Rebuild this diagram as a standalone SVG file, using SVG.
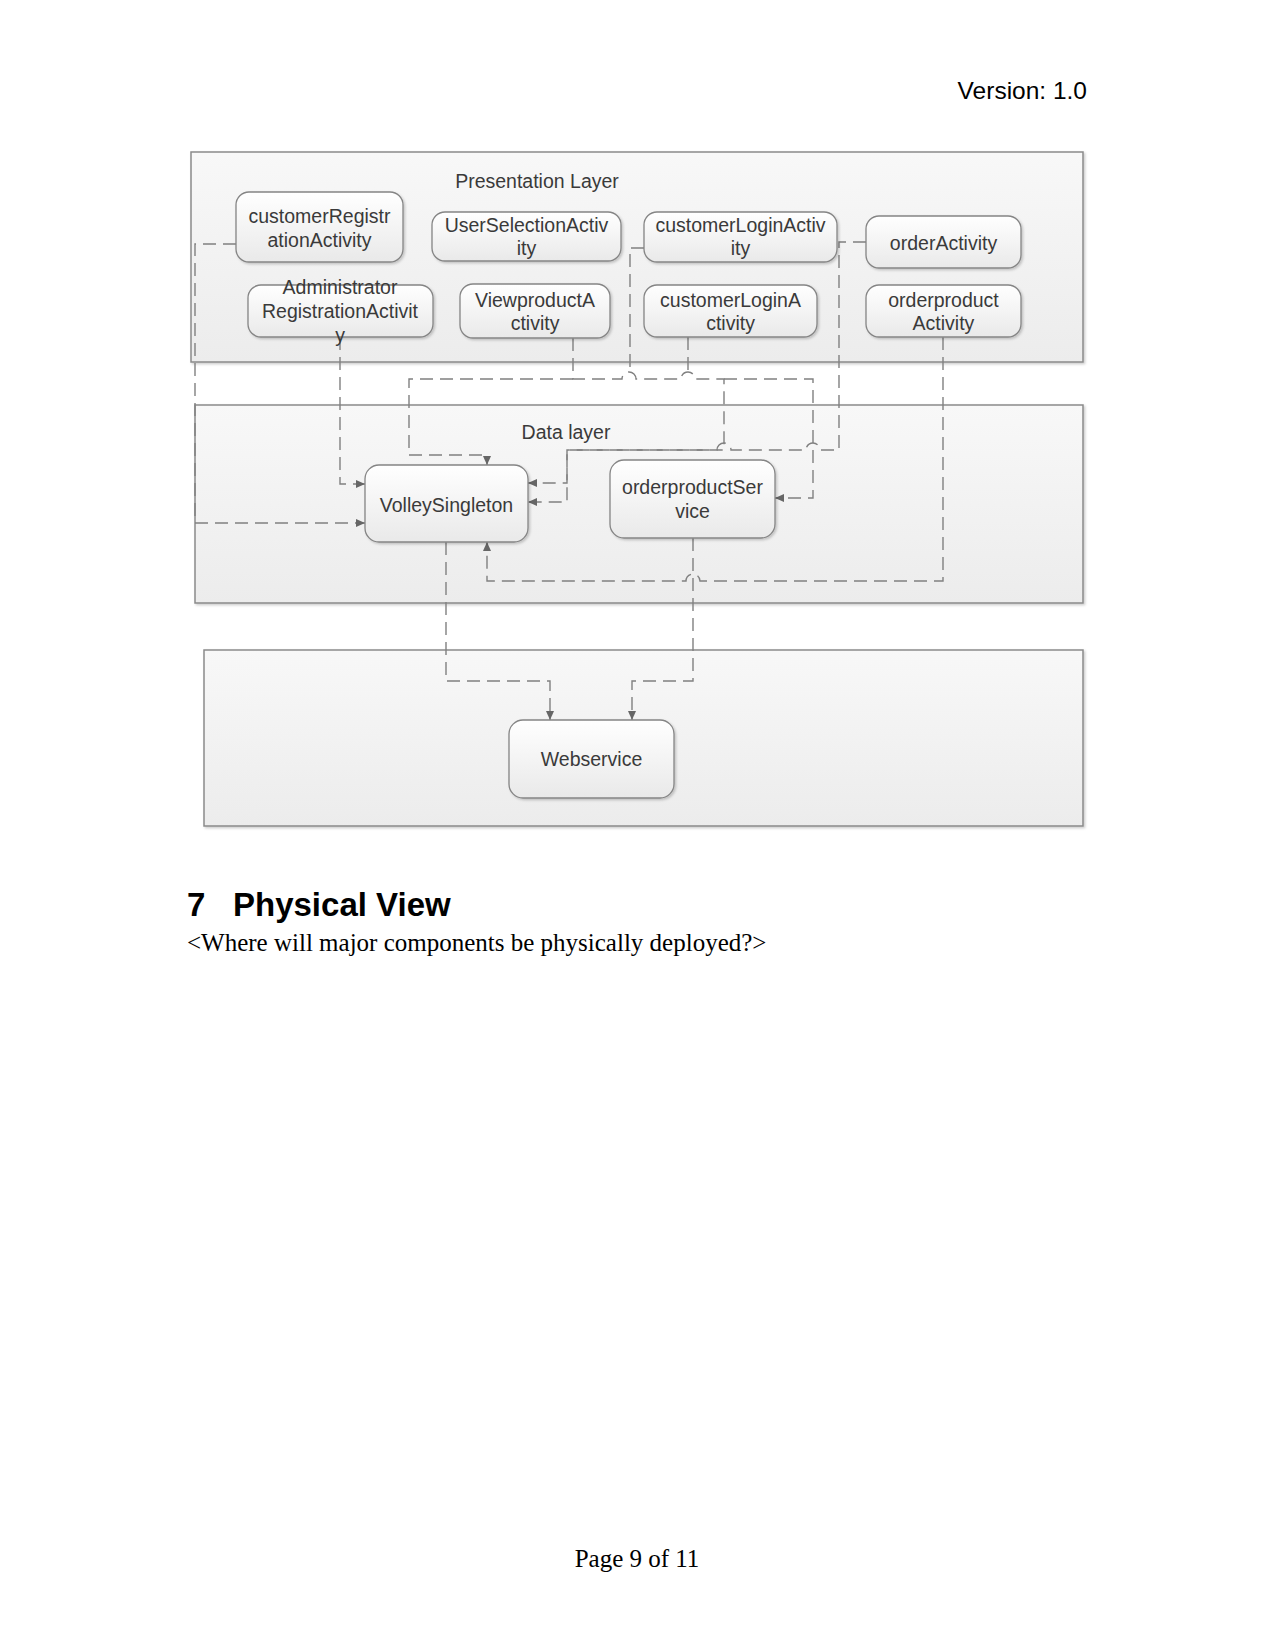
<svg xmlns="http://www.w3.org/2000/svg" width="1275" height="1651" viewBox="0 0 1275 1651">
<style>
.page{font-family:"Liberation Sans",Arial,sans-serif;fill:#000}
.serif{font-family:"Liberation Serif","Times New Roman",serif;fill:#000}
.layer{fill:url(#layerGrad);stroke:#8a8a8a;stroke-width:1.5;filter:url(#shadow)}
.node rect{fill:url(#nodeGrad);stroke:#858585;stroke-width:1.3;filter:url(#shadow)}
.lbl{font-family:"Liberation Sans",Arial,sans-serif;font-size:19.5px;fill:#3a3a3a;text-anchor:middle}
.conn path{fill:none;stroke:#808080;stroke-width:1.4;stroke-dasharray:13 7}
.conn path.arr{marker-end:url(#arrow)}
</style>
<defs>
<linearGradient id="layerGrad" x1="0" y1="0" x2="0" y2="1">
<stop offset="0" stop-color="#f8f8f8"/>
<stop offset="1" stop-color="#ececec"/>
</linearGradient>
<linearGradient id="nodeGrad" x1="0" y1="0" x2="0" y2="1">
<stop offset="0" stop-color="#ffffff"/>
<stop offset="1" stop-color="#e9e9e9"/>
</linearGradient>
<filter id="shadow" x="-10%" y="-10%" width="120%" height="130%">
<feDropShadow dx="1.5" dy="1.5" stdDeviation="1.2" flood-color="#000" flood-opacity="0.2"/>
</filter>
<marker id="arrow" markerUnits="userSpaceOnUse" markerWidth="9" markerHeight="8" refX="9" refY="4" orient="auto">
<path d="M0,0 L9,4 L0,8 z" fill="#666"/>
</marker>
</defs>

<rect width="1275" height="1651" fill="#fff"/>

<text class="page" x="1087" y="99" font-size="24.5" text-anchor="end">Version: 1.0</text>

<g id="layers">
<g id="presentation-layer">
<rect class="layer" x="191" y="152" width="892" height="210"/>
<text class="lbl" x="537" y="188">Presentation Layer</text>
</g>
<g id="data-layer">
<rect class="layer" x="195" y="405" width="888" height="198"/>
<text class="lbl" x="566" y="439">Data layer</text>
</g>
<g id="service-layer">
<rect class="layer" x="204" y="650" width="879" height="176"/>
</g>
</g>

<g id="connectors" class="conn">
<path id="c-custreg" class="arr" d="M236,244 H195 V523 H365"/>
<path id="c-admin" class="arr" d="M340,337 V484 H365"/>
<path id="c-login" class="arr" d="M644,248 H630 V372 M573,379 H409 V455 H487 V465"/>
<path id="c-view" class="arr" d="M573,338 V379 H622 A7,7 0 0 1 636,379 H681 A7,7 0 0 1 695,379 H724 V450 H567 V483 H528"/>
<path id="c-loginA" class="arr" d="M688,337 V372 M724,379 H813 V498 H775"/>
<path id="c-order" class="arr" d="M866,242 H839 V450 H820 A7,7 0 0 0 806,450 H731 A7,7 0 0 0 717,450 H567 V502 H528"/>
<path id="c-orderproduct" class="arr" d="M943,337 V581 H700 A7,7 0 0 0 686,581 H487 V542"/>
<path id="c-volley-web" class="arr" d="M446,542 V681 H550 V720"/>
<path id="c-service-web" class="arr" d="M693,538 V681 H632 V720"/>
</g>

<g id="n-customerRegistration" class="node">
<rect x="236" y="192" width="167" height="70" rx="13"/>
<text class="lbl" x="319.5" y="223">customerRegistr</text>
<text class="lbl" x="319.5" y="246.5">ationActivity</text>
</g>
<g id="n-userSelection" class="node">
<rect x="432" y="212" width="189" height="49" rx="13"/>
<text class="lbl" x="526.5" y="232">UserSelectionActiv</text>
<text class="lbl" x="526.5" y="255">ity</text>
</g>
<g id="n-customerLogin" class="node">
<rect x="644" y="212" width="193" height="50" rx="13"/>
<text class="lbl" x="740.5" y="232">customerLoginActiv</text>
<text class="lbl" x="740.5" y="255">ity</text>
</g>
<g id="n-orderActivity" class="node">
<rect x="866" y="216" width="155" height="52" rx="13"/>
<text class="lbl" x="943.5" y="250">orderActivity</text>
</g>
<g id="n-adminRegistration" class="node">
<rect x="248" y="285" width="185" height="52" rx="13"/>
<text class="lbl" x="340" y="294">Administrator</text>
<text class="lbl" x="340" y="318">RegistrationActivit</text>
<text class="lbl" x="340" y="342">y</text>
</g>
<g id="n-viewproduct" class="node">
<rect x="460" y="284" width="150" height="54" rx="13"/>
<text class="lbl" x="535" y="307">ViewproductA</text>
<text class="lbl" x="535" y="330">ctivity</text>
</g>
<g id="n-customerLoginA" class="node">
<rect x="644" y="285" width="173" height="52" rx="13"/>
<text class="lbl" x="730.5" y="307">customerLoginA</text>
<text class="lbl" x="730.5" y="330">ctivity</text>
</g>
<g id="n-orderproductActivity" class="node">
<rect x="866" y="285" width="155" height="52" rx="13"/>
<text class="lbl" x="943.5" y="307">orderproduct</text>
<text class="lbl" x="943.5" y="330">Activity</text>
</g>
<g id="n-volley" class="node">
<rect x="365" y="465" width="163" height="77" rx="14"/>
<text class="lbl" x="446.5" y="512">VolleySingleton</text>
</g>
<g id="n-orderproductService" class="node">
<rect x="610" y="460" width="165" height="78" rx="14"/>
<text class="lbl" x="692.5" y="494">orderproductSer</text>
<text class="lbl" x="692.5" y="518">vice</text>
</g>
<g id="n-webservice" class="node">
<rect x="509" y="720" width="165" height="78" rx="14"/>
<text class="lbl" x="591.5" y="766">Webservice</text>
</g>

<text class="page" x="187" y="916" font-size="33" font-weight="bold">7</text>
<text class="page" x="233" y="916" font-size="33" font-weight="bold">Physical View</text>
<text class="serif" x="187" y="951" font-size="25">&lt;Where will major components be physically deployed?&gt;</text>
<text class="serif" x="637" y="1567" font-size="25" text-anchor="middle">Page 9 of 11</text>
</svg>
